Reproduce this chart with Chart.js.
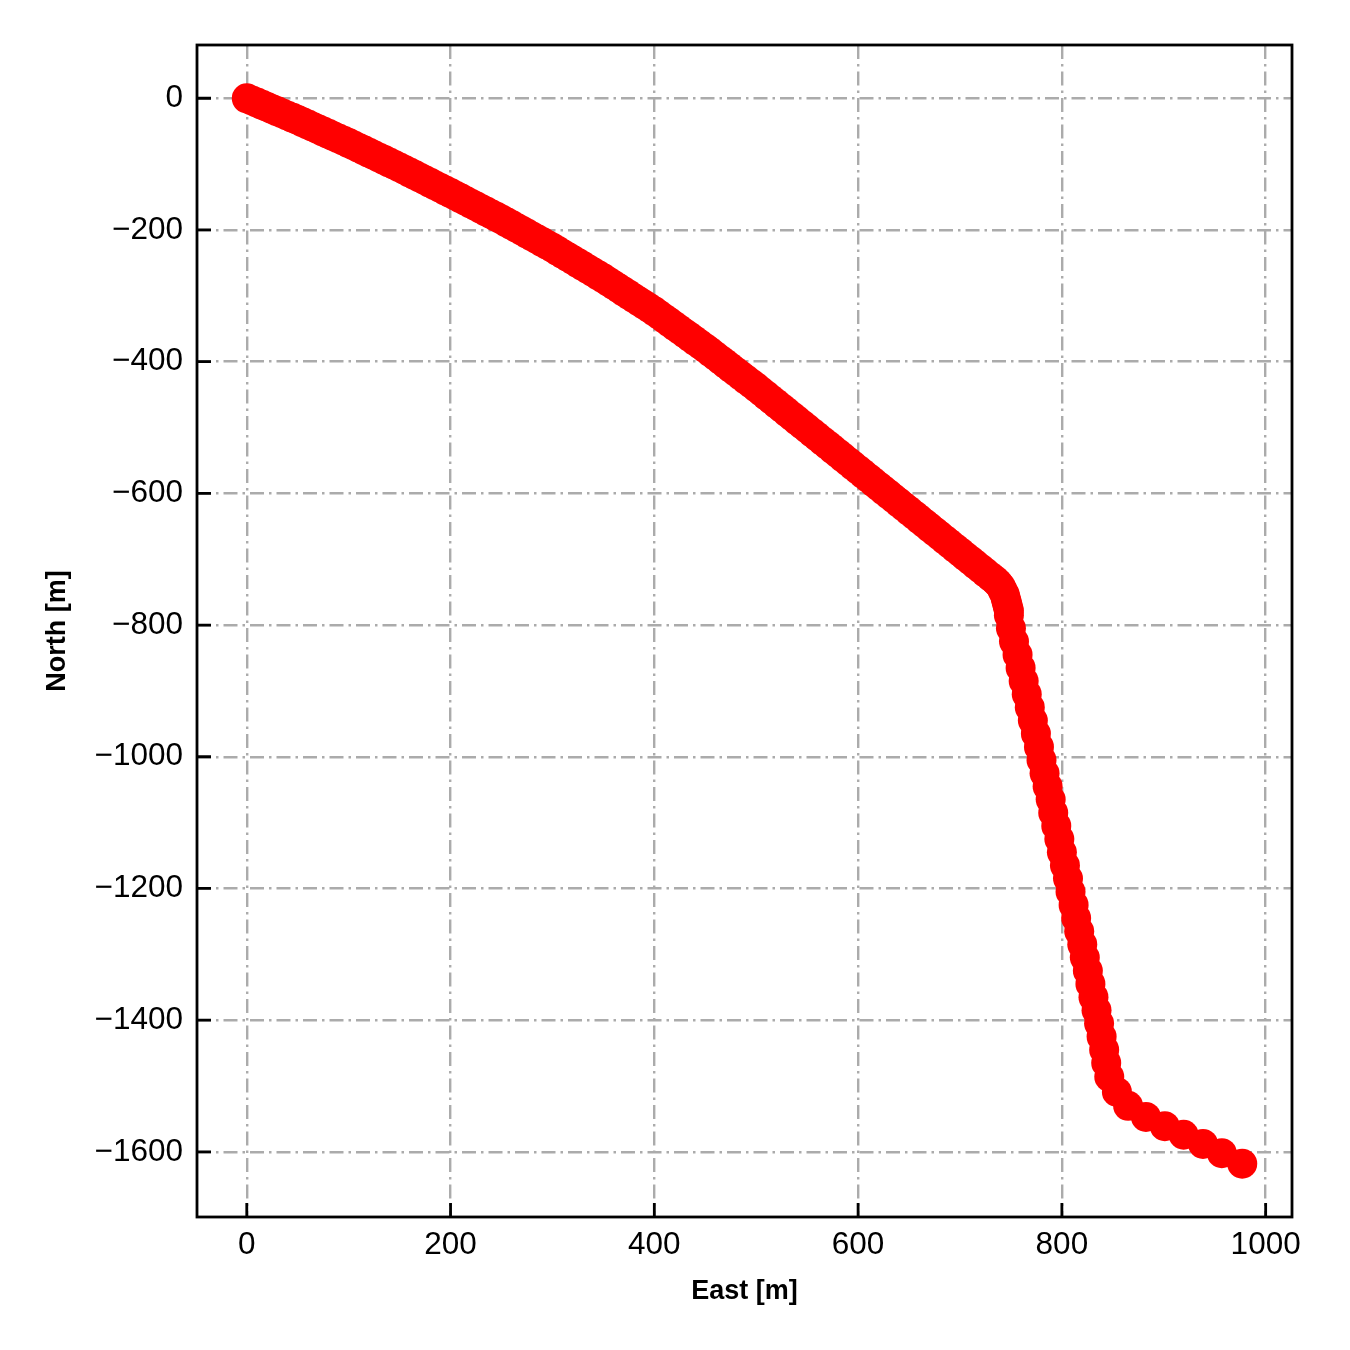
<!DOCTYPE html>
<html>
<head>
<meta charset="utf-8">
<script src="https://cdn.jsdelivr.net/npm/chart.js@4.4.1/dist/chart.umd.min.js"></script>
<style>
html,body{margin:0;padding:0;background:#fff;}
#wrap{width:1350px;height:1350px;position:relative;}
</style>
</head>
<body>
<div id="wrap"><canvas id="c" width="1350" height="1350"></canvas></div>
<script>
// ---- data ----
const eastValues = [0,5,10,15,20,25,30,35,40,45,50,55,60,65,70,75,80,85,90,95,100,105,110,115,120,125,130,135,140,145,150,155,160,165,170,175,180,185,190,195,200,205,210,215,220,225,230,235,240,245,250,255,260,265,270,275,280,285,290,295,300,305,310,315,320,325,330,335,340,345,350,355,360,365,370,375,380,385,390,395,400,405,410,415,420,425,430,435,440,445,450,455,460,465,470,475,480,485,490,495,500,505,510,515,520,525,530,535,540,545,550,555,560,565,570,575,580,585,590,595,600,605,610,615,620,625,630,635,640,645,650,655,660,665,670,675,680,685,690,695,700,705,710,715,720,725,730,734,737,740,742,744,745,746,747,748,748,750,753,756.5,759.5,762.5,765.5,768.5,771.5,774.5,777.5,780,783,786,789,791.5,794.5,797.5,800,803,806,808.5,811.5,814,817,820,822.5,825.5,828,831,834,836.5,839,841.5,843.5,846.5,854,865,882.5,901,919.5,938.5,957,977];
const northValues = [0,-3.3,-6.6,-9.9,-13.2,-16.5,-19.8,-23.1,-26.4,-29.7,-33,-36.5,-40,-43.5,-47,-50.5,-54,-57.5,-61,-64.5,-68,-71.7,-75.4,-79.1,-82.8,-86.5,-90.2,-93.9,-97.6,-101.3,-105,-108.9,-112.8,-116.7,-120.6,-124.5,-128.4,-132.3,-136.2,-140.1,-144,-148,-152,-156,-160,-164,-168,-172,-176,-180,-184,-188.3,-192.6,-196.9,-201.2,-205.5,-209.8,-214.1,-218.4,-222.7,-227,-231.7,-236.3,-241,-245.6,-250.3,-254.9,-259.6,-264.2,-268.9,-273.5,-278.5,-283.5,-288.5,-293.5,-298.5,-303.5,-308.5,-313.5,-318.5,-323.5,-329.1,-334.7,-340.3,-345.9,-351.5,-357.1,-362.7,-368.3,-373.9,-379.5,-385.5,-391.4,-397.4,-403.3,-409.3,-415.2,-421.2,-427.1,-433.1,-439,-445.3,-451.5,-457.8,-464,-470.3,-476.5,-482.8,-489,-495.3,-501.5,-507.8,-514,-520.3,-526.5,-532.8,-539,-545.3,-551.5,-557.8,-564,-570.3,-576.5,-582.8,-589,-595.3,-601.5,-607.8,-614,-620.3,-626.5,-632.8,-639,-645.3,-651.5,-657.8,-664,-670.3,-676.5,-682.8,-689,-695.3,-701.5,-707.8,-714,-720.3,-726.5,-731.5,-736,-741.5,-748,-754,-760,-766,-772,-778,-785,-805,-825,-845,-865,-885,-905,-925,-945,-965,-985,-1005,-1025,-1045,-1065,-1085,-1105,-1125,-1145,-1165,-1185,-1205,-1225,-1245,-1265,-1285,-1305,-1325,-1345,-1365,-1385,-1405,-1425,-1445,-1465,-1486,-1509,-1530,-1547,-1561,-1574,-1588,-1602,-1618];
const xTicks = [0,200,400,600,800,1000];
const yTicks = [0,-200,-400,-600,-800,-1000,-1200,-1400,-1600];
const xTitle = 'East [m]';
const yTitle = 'North [m]';
const xRange = [-48.85, 1025.85];
const yRange = [-1698.9, 80.9];

const fmt = v => (v < 0 ? '\u2212' + Math.abs(v) : String(v));
const points = eastValues.map((x, i) => ({x: x, y: northValues[i]}));

const frameAndTicks = {
  id: 'frameAndTicks',
  afterDraw(chart) {
    const ctx = chart.ctx, a = chart.chartArea;
    const xs = chart.scales.x, ys = chart.scales.y;
    ctx.save();
    ctx.strokeStyle = '#000';
    ctx.lineWidth = 2.8;
    ctx.lineCap = 'butt';
    ctx.beginPath();
    xTicks.forEach(v => {
      const p = xs.getPixelForValue(v);
      ctx.moveTo(p, a.bottom);
      ctx.lineTo(p, a.bottom - 14);
    });
    yTicks.forEach(v => {
      const p = ys.getPixelForValue(v);
      ctx.moveTo(a.left, p);
      ctx.lineTo(a.left + 14, p);
    });
    ctx.stroke();
    ctx.lineWidth = 2.8;
    ctx.strokeRect(a.left, a.top, a.right - a.left, a.bottom - a.top);
    ctx.restore();
  }
};

const gridCommon = {
  color: '#ababab',
  lineWidth: 2.4,
  drawTicks: false
};

new Chart(document.getElementById('c'), {
  type: 'scatter',
  data: {
    datasets: [{
      data: points,
      backgroundColor: '#ff0000',
      borderColor: '#ff0000',
      borderWidth: 0,
      pointRadius: 15,
      pointHoverRadius: 15
    }]
  },
  options: {
    responsive: false,
    animation: false,
    events: [],
    layout: {padding: {top: 45, right: 58, left: 0, bottom: 0}},
    plugins: {legend: {display: false}, tooltip: {enabled: false}},
    scales: {
      x: {
        type: 'linear',
        min: xRange[0], max: xRange[1],
        afterBuildTicks: s => { s.ticks = xTicks.map(v => ({value: v})); },
        afterFit: s => { s.height = 133; },
        grid: gridCommon,
        border: {display: false, dash: [14, 5, 2.5, 5]},
        ticks: {
          color: '#000', padding: 9, maxRotation: 0, autoSkip: false,
          font: {family: '"Liberation Sans", Arial, sans-serif', size: 31.5},
          callback: v => fmt(v)
        },
        title: {
          display: true, text: xTitle, color: '#000',
          font: {family: '"Liberation Sans", Arial, sans-serif', size: 27, weight: 'bold'},
          padding: {top: 0, bottom: 42}
        }
      },
      y: {
        type: 'linear',
        min: yRange[0], max: yRange[1],
        afterBuildTicks: s => { s.ticks = yTicks.map(v => ({value: v})); },
        afterFit: s => { s.width = 197; },
        grid: gridCommon,
        border: {display: false, dash: [14, 5, 2.5, 5]},
        ticks: {
          color: '#000', padding: 14, autoSkip: false,
          font: {family: '"Liberation Sans", Arial, sans-serif', size: 31.5},
          callback: v => fmt(v)
        },
        title: {
          display: true, text: yTitle, color: '#000',
          font: {family: '"Liberation Sans", Arial, sans-serif', size: 27, weight: 'bold'},
          padding: {top: 41, bottom: 0}
        }
      }
    }
  },
  plugins: [frameAndTicks]
});
</script>
</body>
</html>
